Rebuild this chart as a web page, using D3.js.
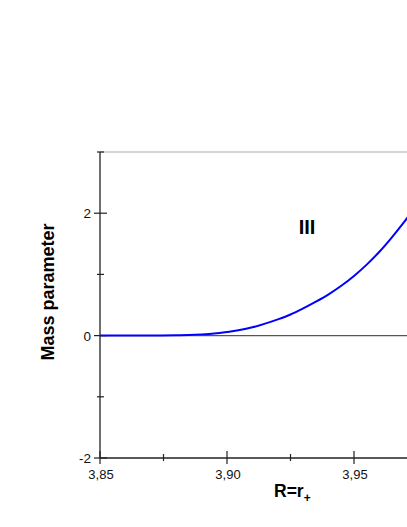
<!DOCTYPE html>
<html>
<head>
<meta charset="utf-8">
<script src="https://cdn.jsdelivr.net/npm/d3@7/dist/d3.min.js"></script>
<style>
html,body{margin:0;padding:0;background:#fff;}
svg{display:block;font-family:Arial,"Liberation Sans",sans-serif;}
</style>
</head>
<body>
<script>
const xValues = [3.85,3.86,3.87,3.88,3.885,3.89,3.895,3.90,3.905,3.91,3.915,3.92,3.925,3.93,3.935,3.94,3.945,3.95,3.955,3.96,3.965,3.97,3.975];
const massValues = [0,0,0.002,0.006,0.01,0.02,0.035,0.06,0.09,0.135,0.195,0.265,0.345,0.445,0.555,0.675,0.815,0.975,1.16,1.37,1.61,1.87,2.15];
const xMajorTicks = [3.85,3.90,3.95];
const xMinorTicks = [3.875,3.925,3.975];
const xTickLabels = ["3,85","3,90","3,95"];
const yMajorTicks = [-2,0,2];
const yMinorTicks = [-1,1,3];
const yTickLabels = ["-2","0","2"];
const regionLabel = "III";
const yTitle = "Mass parameter";

const W = 407, H = 527;
const svg = d3.select("body").append("svg").attr("width",W).attr("height",H);

const x = d3.scaleLinear().domain([3.85,3.90]).range([100,227]);
const y = d3.scaleLinear().domain([-2,3]).range([458,152]);
const x0 = x(3.85), yb = y(-2), yt = y(3);

// top border
svg.append("line").attr("x1",x0).attr("x2",W+5).attr("y1",yt).attr("y2",yt)
  .attr("stroke","#aaa").attr("stroke-width",1.2);
// zero line
svg.append("line").attr("x1",x0).attr("x2",W+5).attr("y1",y(0)).attr("y2",y(0))
  .attr("stroke","#555").attr("stroke-width",1.2);

// curve
const line = d3.line().x((d,i)=>x(xValues[i])).y(d=>y(d)).curve(d3.curveMonotoneX);
svg.append("path").datum(massValues).attr("d",line)
  .attr("fill","none").attr("stroke","#0000ff").attr("stroke-width",2);

// axes lines
svg.append("line").attr("x1",x0).attr("x2",x0).attr("y1",yt).attr("y2",yb)
  .attr("stroke","#222").attr("stroke-width",1.3);
svg.append("line").attr("x1",x0).attr("x2",W+5).attr("y1",yb).attr("y2",yb)
  .attr("stroke","#222").attr("stroke-width",1.3);

// y ticks
yMajorTicks.forEach((v,i)=>{
  svg.append("line").attr("x1",x0-6).attr("x2",x0+7).attr("y1",y(v)).attr("y2",y(v))
    .attr("stroke","#222").attr("stroke-width",1.2);
  svg.append("text").attr("x",x0-9).attr("y",y(v)+5).attr("text-anchor","end")
    .attr("font-size",13.5).attr("fill","#111").text(yTickLabels[i]);
});
yMinorTicks.forEach(v=>{
  svg.append("line").attr("x1",x0-3).attr("x2",x0+4).attr("y1",y(v)).attr("y2",y(v))
    .attr("stroke","#222").attr("stroke-width",1.2);
});
// x ticks
xMajorTicks.forEach((v,i)=>{
  svg.append("line").attr("x1",x(v)).attr("x2",x(v)).attr("y1",yb-7).attr("y2",yb+6)
    .attr("stroke","#222").attr("stroke-width",1.2);
  svg.append("text").attr("x",x(v)+1).attr("y",yb+21).attr("text-anchor","middle")
    .attr("font-size",13).attr("fill","#111").text(xTickLabels[i]);
});
xMinorTicks.forEach(v=>{
  svg.append("line").attr("x1",x(v)).attr("x2",x(v)).attr("y1",yb-4).attr("y2",yb+3)
    .attr("stroke","#222").attr("stroke-width",1.2);
});

// region label
svg.append("text").attr("x",307).attr("y",234).attr("text-anchor","middle")
  .attr("font-size",20).attr("font-weight","bold").attr("fill","#000").text(regionLabel);

// x title
const xt = svg.append("text").attr("x",274).attr("y",497)
  .attr("font-size",17.5).attr("font-weight","bold").attr("fill","#000");
xt.append("tspan").text("R=r");
xt.append("tspan").attr("dy",5).attr("font-size",12).text("+");

// y title
svg.append("text").attr("transform","translate(54,292) rotate(-90)")
  .attr("text-anchor","middle").attr("font-size",18).attr("font-weight","bold")
  .attr("fill","#000").text(yTitle);
</script>
</body>
</html>
